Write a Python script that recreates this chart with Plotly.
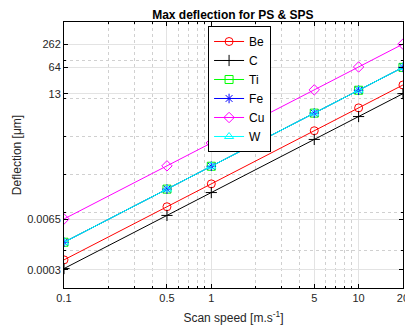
import plotly.graph_objects as go
import numpy as np

speed = [0.1, 0.5, 1, 5, 10, 20]
be = [0.00055, 0.01375, 0.055, 1.375, 5.5, 22]
c = [0.000325, 0.008125, 0.0325, 0.8125, 3.25, 13]
ti = [0.0016, 0.04, 0.16, 4.0, 16, 64]
fe = [0.0016, 0.04, 0.16, 4.0, 16, 64]
cu = [0.00655, 0.16375, 0.655, 16.375, 65.5, 262]
w = [0.0016, 0.04, 0.16, 4.0, 16, 64]

x_ticks = [0.1, 0.5, 1, 5, 10, 20]
x_tick_labels = ["0.1", "0.5", "1", "5", "10", "20"]
y_ticks = [0.0003, 0.0065, 13, 64, 262]
y_tick_labels = ["0.0003", "0.0065", "13", "64", "262"]

series = [
    ("Be", be, "#ff0000", "circle-open"),
    ("C", c, "#000000", "cross-thin-open"),
    ("Ti", ti, "#00ff00", "square-open"),
    ("Fe", fe, "#0000ff", "asterisk-open"),
    ("Cu", cu, "#ff00ff", "diamond-open"),
    ("W", w, "#00ffff", "triangle-up-open"),
]

fig = go.Figure()
for name, vals, col, sym in series:
    fig.add_trace(go.Scatter(
        x=speed, y=vals, name=name, mode="lines+markers",
        line=dict(color=col, width=1),
        marker=dict(symbol=sym, size=8, color=col, line=dict(color=col, width=1)),
    ))

x_minor = [0.2, 0.3, 0.4, 0.6, 0.7, 0.8, 0.9, 2, 3, 4, 6, 7, 8, 9]
y_minor = [1e-4, 1e-3, 1e-2, 1e-1, 1, 10, 100, 1000]

font = "Liberation Sans, Arial, sans-serif"
fig.update_layout(
    width=405, height=328,
    margin=dict(l=64, r=2, t=22, b=40, autoexpand=False),
    paper_bgcolor="white", plot_bgcolor="white",
    font=dict(family=font, size=11, color="#262626"),
    title=dict(text="<b>Max deflection for PS & SPS</b>", x=0.575, xanchor="center",
               y=0.955, yanchor="middle", font=dict(size=12, color="black")),
    showlegend=True,
    legend=dict(x=0.425, y=0.985, xanchor="left", yanchor="top",
                bgcolor="white", bordercolor="black", borderwidth=1,
                font=dict(size=12, color="black"), tracegroupgap=0,
                itemwidth=30),
)
fig.update_xaxes(
    type="log", range=[-1, np.log10(20) + 0.0004], automargin=False,
    tickvals=x_ticks, ticktext=x_tick_labels, ticklabeloverflow="allow",
    showline=True, linecolor="black", linewidth=1, mirror="ticks",
    ticks="inside", ticklen=4, tickcolor="black",
    showgrid=True, gridcolor="#e3e3e3", gridwidth=1,
    minor=dict(tickvals=x_minor, ticks="inside", ticklen=2, tickcolor="black",
               showgrid=True, gridcolor="#d0d0d0", griddash="dot", gridwidth=1),
    title=dict(text="Scan speed [m.s<sup>-1</sup>]", standoff=10, font=dict(size=12)),
    zeroline=False,
)
fig.update_yaxes(
    type="log", range=[-4, 3], automargin=False,
    tickvals=y_ticks, ticktext=y_tick_labels,
    showline=True, linecolor="black", linewidth=1, mirror="ticks",
    ticks="inside", ticklen=4, tickcolor="black",
    showgrid=True, gridcolor="#e3e3e3", gridwidth=1,
    minor=dict(tickvals=y_minor, ticks="inside", ticklen=2, tickcolor="black",
               showgrid=True, gridcolor="#d0d0d0", griddash="dot", gridwidth=1),
    title=dict(text="Deflection [μm]", standoff=2, font=dict(size=12)),
    zeroline=False,
)
fig.write_html("out.html")
